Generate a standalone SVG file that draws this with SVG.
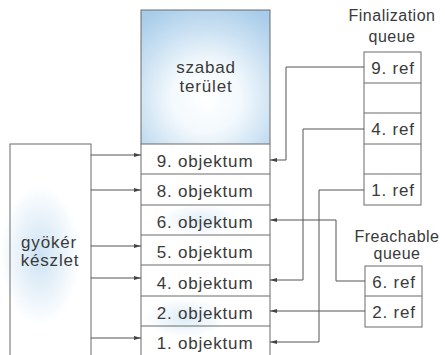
<svg xmlns="http://www.w3.org/2000/svg" width="445" height="355" viewBox="0 0 445 355">
<style>
.t{font-family:"Liberation Sans",Arial,sans-serif;font-size:17px;fill:#3a3a3a;letter-spacing:0.8px;text-anchor:middle}
.h{font-family:"Liberation Sans",Arial,sans-serif;font-size:16px;fill:#3a3a3a;letter-spacing:0.5px;text-anchor:middle}
.b{fill:none;stroke:#6a6a6a;stroke-width:1}
.c{fill:none;stroke:#555;stroke-width:1}
</style>
<defs>
<radialGradient id="g1" cx="206" cy="98" r="100" gradientUnits="userSpaceOnUse">
<stop offset="0" stop-color="#ffffff"/>
<stop offset="0.35" stop-color="#f3f9fd"/>
<stop offset="0.7" stop-color="#c9e0f2"/>
<stop offset="1" stop-color="#a8cdea"/>
</radialGradient>
<radialGradient id="g2" cx="0.5" cy="0.5" r="0.5">
<stop offset="0" stop-color="#a9cfec" stop-opacity="0.9"/>
<stop offset="1" stop-color="#a9cfec" stop-opacity="0"/>
</radialGradient>
<marker id="a" markerWidth="7" markerHeight="5" refX="7" refY="2.5" orient="auto" markerUnits="userSpaceOnUse">
<path d="M0,0.5 L7,2.5 L0,4.5 Z" fill="#444"/>
</marker>
</defs>
<rect width="445" height="355" fill="#ffffff"/>

<g id="heap">
<rect x="141" y="10" width="129" height="134" fill="url(#g1)"/>
<ellipse cx="200" cy="220" rx="40" ry="16" fill="url(#g2)" opacity="0.4"/>
<ellipse cx="185" cy="318" rx="40" ry="20" fill="url(#g2)" opacity="0.45"/>
<rect class="b" x="141" y="10" width="129" height="350"/>
<path class="b" d="M141,144H270M141,174H270M141,205H270M141,235H270M141,265H270M141,296H270M141,326H270"/>
<text class="t" x="206" y="73">szabad</text>
<text class="t" x="206" y="92">terület</text>
</g>
<g id="obj9"><text class="t" x="205" y="167">9. objektum</text></g>
<g id="obj8"><text class="t" x="205" y="197">8. objektum</text></g>
<g id="obj6"><text class="t" x="205" y="228">6. objektum</text></g>
<g id="obj5"><text class="t" x="205" y="258">5. objektum</text></g>
<g id="obj4"><text class="t" x="205" y="289">4. objektum</text></g>
<g id="obj2"><text class="t" x="205" y="319">2. objektum</text></g>
<g id="obj1"><text class="t" x="205" y="349">1. objektum</text></g>

<g id="root">
<ellipse cx="40" cy="255" rx="40" ry="70" fill="url(#g2)" opacity="0.65"/>
<rect class="b" x="10" y="144" width="81" height="220"/>
<text class="t" x="49" y="248">gyökér</text>
<text class="t" x="50" y="266">készlet</text>
</g>

<g id="finalization">
<text class="h" x="392" y="21">Finalization</text>
<text class="h" x="392" y="42">queue</text>
<rect class="b" x="364" y="52" width="57" height="153"/>
<path class="b" d="M364,83H421M364,113H421M364,144H421M364,174H421"/>
<text class="t" x="393" y="74">9. ref</text>
<text class="t" x="393" y="135">4. ref</text>
<text class="t" x="393" y="196">1. ref</text>
</g>

<g id="freachable">
<text class="h" x="397" y="242">Freachable</text>
<text class="h" x="397" y="259">queue</text>
<rect class="b" x="365" y="266" width="57" height="61"/>
<path class="b" d="M365,296H422"/>
<text class="t" x="394" y="288">6. ref</text>
<text class="t" x="394" y="318">2. ref</text>
</g>

<g id="connectors">
<path class="c" marker-end="url(#a)" d="M91,155H141"/>
<path class="c" marker-end="url(#a)" d="M91,190H141"/>
<path class="c" marker-end="url(#a)" d="M91,246H141"/>
<path class="c" marker-end="url(#a)" d="M91,278H141"/>
<path class="c" marker-end="url(#a)" d="M91,338H141"/>
<path class="c" marker-end="url(#a)" d="M364,67H286V160H270"/>
<path class="c" marker-end="url(#a)" d="M364,129H303V280H270"/>
<path class="c" marker-end="url(#a)" d="M364,190H319V342H270"/>
<path class="c" marker-end="url(#a)" d="M365,281H336V220H270"/>
<path class="c" marker-end="url(#a)" d="M365,311H270"/>
</g>
</svg>
